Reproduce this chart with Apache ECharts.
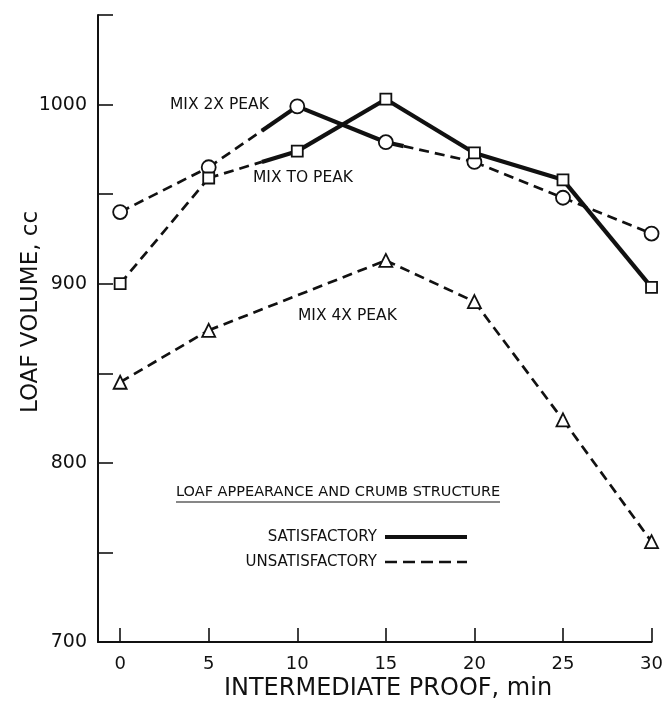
<!DOCTYPE html>
<html>
<head>
<meta charset="utf-8">
<script src="https://cdn.jsdelivr.net/npm/echarts@6/dist/echarts.min.js"></script>
<style>
  html, body { margin: 0; padding: 0; background: #fff; }
  #chart { width: 666px; height: 703px; }
</style>
</head>
<body>
<div id="chart"></div>
<script>
// Intermediate proof time (min) and loaf volume (cc) for three mixing levels
const proofMin = [0, 5, 10, 15, 20, 25, 30];
const mix2xPeak = [940, 965, 999, 979, 968, 948, 928];
const mixToPeak = [900, 959, 974, 1003, 973, 958, 898];
const mix4xPeak = [845, 874, null, 913, 890, 824, 756];

// Proof-time span (min) over which each curve's loaves were satisfactory
const mix2xSatisfactory = [8, 16];
const mixToPeakSatisfactory = [8, 30];
const mix4xSatisfactory = null;

const xTickValues = [0, 5, 10, 15, 20, 25, 30];
const yTickLabels = [700, 800, 900, 1000];

const FONT = 'DejaVu Sans';
const INK = '#111';

function pairs(values) {
  return proofMin.map((x, i) => [x, values[i]]).filter(p => p[1] != null);
}

// Draws segment i -> i+1, solid inside the satisfactory span, dashed outside it
function makeSegmentRenderer(span) {
  return function (params, api) {
    const i = params.dataIndexInside;
    if (i >= params.dataInsideLength - 1) return null;
    const x0 = api.value(0, i), y0 = api.value(1, i);
    const x1 = api.value(0, i + 1), y1 = api.value(1, i + 1);
    const p0 = api.coord([x0, y0]);
    const p1 = api.coord([x1, y1]);
    const cuts = [x0];
    if (span) {
      span.forEach(s => { if (s > x0 && s < x1) cuts.push(s); });
    }
    cuts.push(x1);
    const at = x => {
      const t = (x - x0) / (x1 - x0);
      return [p0[0] + t * (p1[0] - p0[0]), p0[1] + t * (p1[1] - p0[1])];
    };
    const children = [];
    for (let k = 0; k < cuts.length - 1; k++) {
      const a = cuts[k], b = cuts[k + 1];
      const mid = (a + b) / 2;
      const solid = span && mid >= span[0] && mid <= span[1];
      const pa = at(a), pb = at(b);
      children.push({
        type: 'line',
        shape: { x1: pa[0], y1: pa[1], x2: pb[0], y2: pb[1] },
        style: solid
          ? { stroke: INK, lineWidth: 4.2, lineCap: 'butt' }
          : { stroke: INK, lineWidth: 2.7, lineDash: [10, 6], lineCap: 'butt' }
      });
    }
    return { type: 'group', children: children };
  };
}

function curve(name, values, span) {
  return {
    name: name,
    type: 'custom',
    data: pairs(values),
    renderItem: makeSegmentRenderer(span),
    encode: { x: 0, y: 1 },
    z: 2,
    silent: true
  };
}

function markers(name, values, symbol, size) {
  return {
    name: name,
    type: 'scatter',
    data: pairs(values),
    symbol: symbol,
    symbolSize: size,
    itemStyle: { color: '#fff', borderColor: INK, borderWidth: 1.8, opacity: 1 },
    z: 5,
    silent: true
  };
}

function label(text, x, y, size, align) {
  return {
    type: 'text', x: x, y: y,
    style: { text: text, fill: INK, font: size + 'px "' + FONT + '"', align: align || 'left', verticalAlign: 'middle' }
  };
}

const chart = echarts.init(document.getElementById('chart'), null, { renderer: 'canvas' });

chart.setOption({
  animation: false,
  backgroundColor: '#fff',
  grid: { left: 98, right: 14, top: 15, bottom: 61, containLabel: false },
  xAxis: {
    type: 'value',
    min: -1.25,
    max: 30,
    axisLine: { show: true, onZero: false, lineStyle: { color: INK, width: 2 } },
    axisTick: { show: true, inside: true, length: 14, customValues: xTickValues, lineStyle: { color: INK, width: 1.6 } },
    axisLabel: { customValues: xTickValues, margin: 13, color: INK, fontFamily: FONT, fontSize: 18 },
    splitLine: { show: false }
  },
  yAxis: {
    type: 'value',
    min: 700,
    max: 1050,
    interval: 50,
    axisLine: { show: true, onZero: false, lineStyle: { color: INK, width: 2 } },
    axisTick: { show: true, inside: true, length: 15, lineStyle: { color: INK, width: 1.6 } },
    axisLabel: {
      margin: 11,
      color: INK,
      fontFamily: FONT,
      fontSize: 19,
      formatter: v => (yTickLabels.indexOf(v) >= 0 ? String(v) : '')
    },
    splitLine: { show: false }
  },
  series: [
    curve('MIX 2X PEAK', mix2xPeak, mix2xSatisfactory),
    curve('MIX TO PEAK', mixToPeak, mixToPeakSatisfactory),
    curve('MIX 4X PEAK', mix4xPeak, mix4xSatisfactory),
    markers('MIX 2X PEAK', mix2xPeak, 'circle', 14),
    markers('MIX TO PEAK', mixToPeak, 'rect', 11),
    markers('MIX 4X PEAK', mix4xPeak, 'triangle', 13)
  ],
  graphic: [
    // axis titles
    {
      type: 'text', x: 31, y: 312, rotation: Math.PI / 2,
      style: { text: 'LOAF VOLUME, cc', fill: INK, font: '23px "' + FONT + '"', align: 'center', verticalAlign: 'middle' }
    },
    label('INTERMEDIATE PROOF, min', 388, 689, 24, 'center'),
    // curve labels
    label('MIX 2X PEAK', 170, 105, 15.5),
    label('MIX TO PEAK', 253, 178, 15.5),
    label('MIX 4X PEAK', 298, 316, 15.5),
    // legend
    label('LOAF APPEARANCE AND CRUMB STRUCTURE', 176, 492, 14.5),
    {
      type: 'line', shape: { x1: 176, y1: 502, x2: 500, y2: 502 },
      style: { stroke: INK, lineWidth: 1.2 }
    },
    label('SATISFACTORY', 377, 537, 15, 'right'),
    {
      type: 'line', shape: { x1: 385, y1: 537, x2: 467, y2: 537 },
      style: { stroke: INK, lineWidth: 4.2 }
    },
    label('UNSATISFACTORY', 377, 562, 15, 'right'),
    {
      type: 'line', shape: { x1: 385, y1: 562, x2: 467, y2: 562 },
      style: { stroke: INK, lineWidth: 2.7, lineDash: [12, 6] }
    }
  ]
});
</script>
</body>
</html>
